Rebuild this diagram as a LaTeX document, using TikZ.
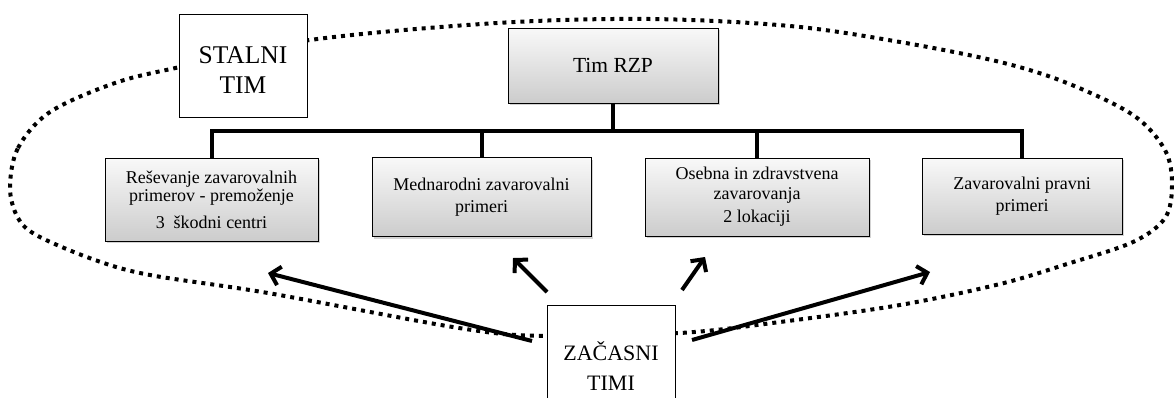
\documentclass[tikz,border=0pt]{standalone}
\usepackage{fontspec}
\setmainfont{Liberation Serif}
\usetikzlibrary{arrows.meta,shadows}

\begin{document}
\begin{tikzpicture}[x=1pt, y=-1pt,
    unit/.style={draw, line width=1pt, top color=gray!5, bottom color=gray!40,
      drop shadow={shadow xshift=2pt, shadow yshift=-2pt, opacity=.35},
      align=center, inner sep=0pt, font=\fontsize{18}{22}\selectfont},
    team/.style={draw, line width=.8pt, fill=white, align=center,
      minimum width=128pt, font=\fontsize{22}{30}\selectfont},
    link/.style={line width=4pt},
    push/.style={line width=4pt, -{Straight Barb[length=9pt,width=19pt]}}]
  \useasboundingbox (0,0) rectangle (1174,397);
  \clip (0,0) rectangle (1174,397);

  % dotted border round the permanent team
  \draw[line width=4pt, dash pattern=on 4pt off 5pt]
    plot[smooth cycle, tension=.55] coordinates {
      (10,188) (18,148) (50,112) (115,83) (180,67) (310,40) (497,23) (650,19)
      (790,26) (900,42) (1000,62) (1067,83) (1133,115) (1165,150) (1172,185)
      (1165,218) (1133,242) (1067,264) (1000,284) (900,305) (780,322)
      (680,333) (545,336) (459,328) (268,293) (150,275) (95,260) (38,236)
      (18,218)};

  \node[unit, minimum width=210pt, minimum height=75pt,
    font=\fontsize{21.5}{26}\selectfont] (rzp) at (613,65.5) {Tim RZP};
  \node[unit, minimum width=213pt, minimum height=83pt] (c1) at (211.5,199.5)
    {Reševanje zavarovalnih\\[-4pt]primerov - premoženje\\[5pt]3~ škodni centri};
  \node[unit, minimum width=219pt, minimum height=79pt] (c2) at (481.5,197)
    {Mednarodni zavarovalni\\primeri};
  \node[unit, minimum width=224pt, minimum height=78pt] (c3) at (757,197)
    {Osebna in zdravstvena\\[-2pt]zavarovanja\\[1pt]2 lokaciji};
  \node[unit, minimum width=200pt, minimum height=76pt] (c4) at (1022,196)
    {Zavarovalni pravni\\primeri};

  \coordinate (bar) at (613,131);
  \draw[link] (rzp) -- (bar);
  \foreach \c in {c1,c2,c3,c4}
    \draw[link] (bar) -| (\c);

  \node[team, minimum height=103pt, font=\fontsize{25.5}{30}\selectfont]
    (stalni) at (243,65.5) {\rule{0pt}{26pt}STALNI\\TIM};
  \node[team, minimum height=122pt] (zacasni) at (611,366) {ZAČASNI\\TIMI};

  % temporary teams reach into the units
  \coordinate (s1) at (532,341); \coordinate (t1) at (268,273);
  \coordinate (s2) at (547,292); \coordinate (t2) at (513,258);
  \coordinate (s3) at (682,290); \coordinate (t3) at (705,257);
  \coordinate (s4) at (692,340); \coordinate (t4) at (930,272);
  \foreach \i in {1,...,4}
    \draw[push] (s\i) -- (t\i);
\end{tikzpicture}
\end{document}
